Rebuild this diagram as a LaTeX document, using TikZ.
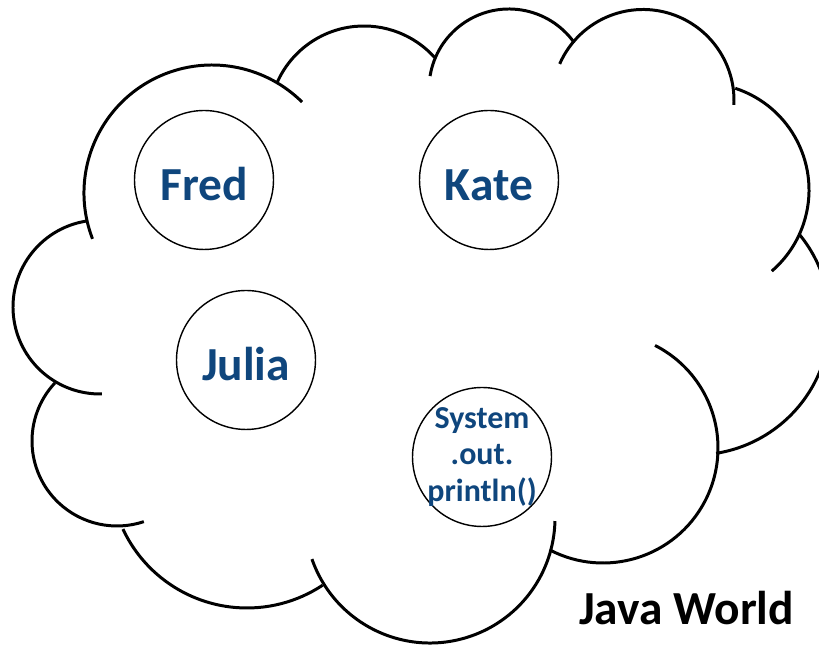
\documentclass[tikz,border=0pt]{standalone}
\usepackage{fontspec}
\setmainfont{Carlito}
\usepackage[HTML]{xcolor}
\definecolor{javablue}{HTML}{0F467D}

\begin{document}
\begin{tikzpicture}[x=0.02cm,y=0.02cm,
  cloudline/.style={line width=1.7pt},
  person/.style={draw,circle,line width=0.8pt,minimum size=2.78cm,inner sep=0pt,
    text height=23.5pt,text depth=0pt,
    text=javablue,font=\fontsize{27}{30}\selectfont\bfseries}]
\useasboundingbox (0,0) rectangle (819,645);
\clip (0,0) rectangle (819,645);
% cloud lobes: centre x / centre y / radius / start / end
\foreach \cx/\cy/\r/\a/\b in {100/338/87/99.2/271.3, 117/204/85/136.9/288.4,
    247/174/137/205.1/303.5, 430/127/125/199.2/358.6, 603/197/115/242.3/423.1,
    695/325/135/39.2/-81, 702/455/107/71.9/-49.3, 643/544.5/91/156.3/-2.8,
    509/556/80/170.7/35.3, 364/524/95/155.9/42, 212/452/128/201/45.3}
  \draw[cloudline] (\cx,\cy) ++(\a:\r) arc[start angle=\a, end angle=\b, radius=\r];

\node[person] (fred) at (204,465) {Fred};
\node[person] (kate) at (489,465) {Kate};
\node[person] (julia) at (246,285) {Julia};
\node[person] (sout) at (482,188) {};
\node[align=center,text=javablue,font=\fontsize{18.2}{20.8}\selectfont\bfseries] (soutlabel) at (sout) {System\\.out.\\println()};
\node[anchor=base,font=\fontsize{27}{30}\selectfont\bfseries] (world) at (686.5,20) {Java World};
\end{tikzpicture}
\end{document}
